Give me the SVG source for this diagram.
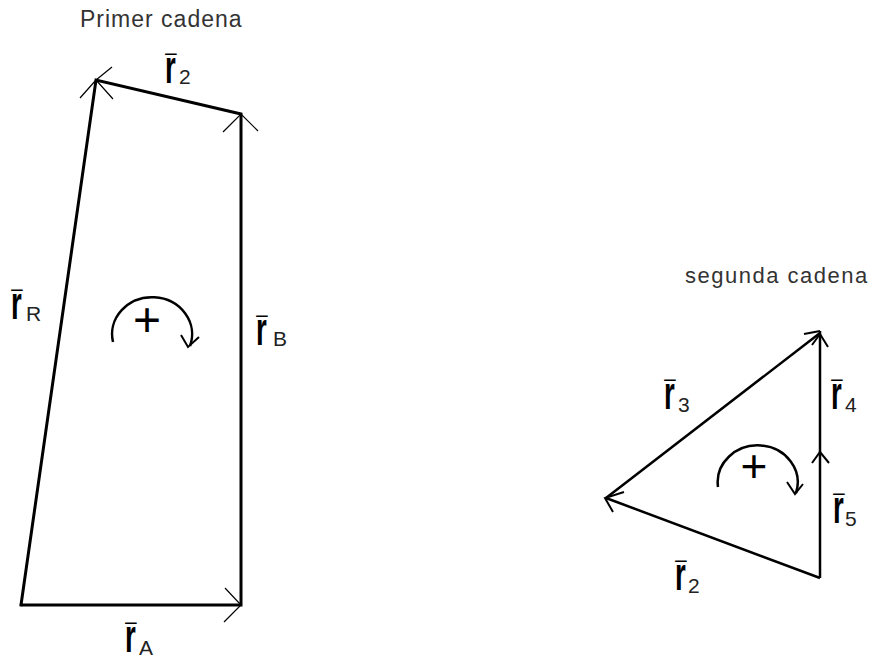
<svg xmlns="http://www.w3.org/2000/svg" width="876" height="659" viewBox="0 0 876 659">
<style>
.edge{stroke:#000;stroke-width:3;fill:none;stroke-linecap:square}
.edge2{stroke:#000;stroke-width:2.5;fill:none}
.head{stroke:#000;stroke-width:1.2;fill:none}
.head2{stroke:#000;stroke-width:2;fill:none}
.loop{stroke:#000;stroke-width:2.5;fill:none}
.title{font-family:"Liberation Sans",Arial,sans-serif;font-size:23px;fill:#333}
.v{font-family:"Liberation Sans",Arial,sans-serif;font-size:46px;font-weight:bold;fill:#000}
.bar{font-size:34px;font-weight:normal}
.s{font-family:"Liberation Sans",Arial,sans-serif;font-size:21px;fill:#222}
.plus{font-family:"Liberation Sans",Arial,sans-serif;font-size:48px;fill:#000;text-anchor:middle}
</style>
<rect width="876" height="659" fill="#fff"/>
<text class="title" x="80" y="27" letter-spacing="1">Primer cadena</text>
<text class="title" x="685" y="283" style="font-size:22px" letter-spacing="1.5">segunda cadena</text>
<g id="connectors">
<polyline class="edge" points="21,605 241,605 241,114 96,80 21,605"/>
<polyline class="head" points="225,588 241,605 224,622"/>
<polyline class="head" points="223,132 241,114 258,131"/>
<polyline class="head" points="80,98 96,80 113,99"/>
<line class="head" x1="96" y1="80" x2="112" y2="67"/>
<line class="edge2" x1="820" y1="331" x2="820" y2="578"/>
<line class="edge2" x1="820" y1="578" x2="606" y2="498"/>
<line class="edge2" x1="820" y1="333" x2="606" y2="498"/>
<polyline class="head2" points="812,345 820,334 828,347"/>
<line class="head2" x1="804" y1="334" x2="820" y2="331"/>
<polyline class="head2" points="812,463 820,452 829,463"/>
<polyline class="head2" points="624,492 605,498 613,512"/>
</g>
<g id="loop1">
<path class="loop" d="M113,342 A40,37 0 1 1 190,346"/>
<polyline class="head" points="181,335 188,347 199,337" style="stroke-width:2"/>
<text class="plus" x="147" y="336">+</text>
</g>
<g id="loop2">
<path class="loop" d="M718,487 A40,37 0 1 1 796,493"/>
<polyline class="head" points="787,482 795,494 803,484" style="stroke-width:2"/>
<text class="plus" x="754" y="482" style="font-size:46px">+</text>
</g>
<g id="label-r2-top">
<text class="v" transform="translate(165,83) scale(0.6,1)">r<tspan class="bar" dx="-17.3" dy="-4">¯</tspan></text>
<text class="s" x="179" y="84">2</text>
</g>
<g id="label-rR">
<text class="v" transform="translate(11,319) scale(0.6,1)">r<tspan class="bar" dx="-17.3" dy="-4">¯</tspan></text>
<text class="s" x="26" y="321">R</text>
</g>
<g id="label-rB">
<text class="v" transform="translate(256,345) scale(0.6,1)">r<tspan class="bar" dx="-17.3" dy="-4">¯</tspan></text>
<text class="s" x="273" y="346">B</text>
</g>
<g id="label-rA">
<text class="v" transform="translate(125,652) scale(0.6,1)">r<tspan class="bar" dx="-17.3" dy="-4">¯</tspan></text>
<text class="s" x="139" y="655">A</text>
</g>
<g id="label-r3">
<text class="v" transform="translate(664,409) scale(0.6,1)">r<tspan class="bar" dx="-17.3" dy="-4">¯</tspan></text>
<text class="s" x="678" y="412">3</text>
</g>
<g id="label-r4">
<text class="v" transform="translate(831,409) scale(0.6,1)">r<tspan class="bar" dx="-17.3" dy="-4">¯</tspan></text>
<text class="s" x="845" y="412">4</text>
</g>
<g id="label-r5">
<text class="v" transform="translate(833,523) scale(0.6,1)">r<tspan class="bar" dx="-17.3" dy="-4">¯</tspan></text>
<text class="s" x="845" y="526">5</text>
</g>
<g id="label-r2-bot">
<text class="v" transform="translate(675,590) scale(0.6,1)">r<tspan class="bar" dx="-17.3" dy="-4">¯</tspan></text>
<text class="s" x="688" y="593">2</text>
</g>
</svg>
